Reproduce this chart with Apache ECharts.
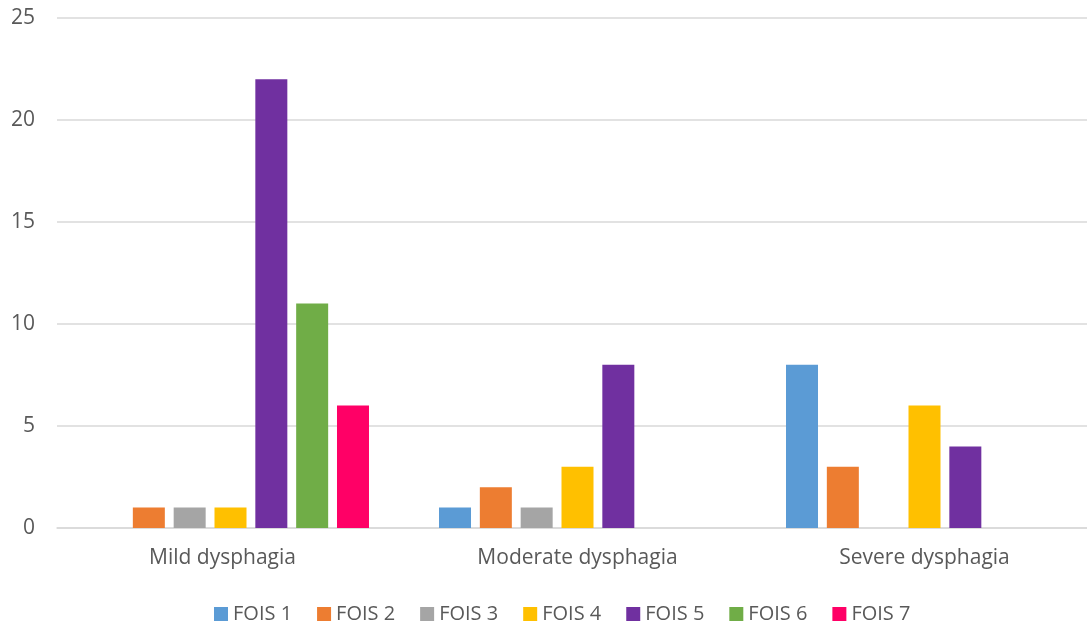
<!DOCTYPE html>
<html>
<head>
<meta charset="utf-8">
<script src="https://cdn.jsdelivr.net/npm/echarts@6/dist/echarts.min.js"></script>
<style>html,body{margin:0;padding:0;background:#fff;}#c{width:1087px;height:625px;}</style>
</head>
<body>
<div id="c"></div>
<script>
const categories = ['Mild dysphagia', 'Moderate dysphagia', 'Severe dysphagia'];
const seriesNames = ['FOIS 1', 'FOIS 2', 'FOIS 3', 'FOIS 4', 'FOIS 5', 'FOIS 6', 'FOIS 7'];
const fois1 = [0, 1, 8];
const fois2 = [1, 2, 3];
const fois3 = [1, 1, 0];
const fois4 = [1, 3, 6];
const fois5 = [22, 8, 4];
const fois6 = [11, 0, 0];
const fois7 = [6, 0, 0];
const yTicks = [0, 5, 10, 15, 20, 25];

const values = [fois1, fois2, fois3, fois4, fois5, fois6, fois7];
const colors = ['#5B9BD5', '#ED7D31', '#A5A5A5', '#FFC000', '#7030A0', '#70AD47', '#FF0066'];
const FONT = 'Open Sans';

const chart = echarts.init(document.getElementById('c'), null, {renderer: 'canvas'});
chart.setOption({
  animation: false,
  backgroundColor: '#ffffff',
  grid: {left: 57, top: 18, height: 510, width: 1041, containLabel: false, outerBoundsMode: 'none'},
  legend: {
    data: seriesNames,
    left: 214,
    top: 604,
    padding: 0,
    icon: 'rect',
    itemWidth: 14,
    itemHeight: 14,
    itemGap: 25,
    textStyle: {fontFamily: FONT, fontSize: 20, color: '#595959'}
  },
  xAxis: {
    type: 'category',
    data: categories,
    axisLine: {show: true, lineStyle: {color: '#D9D9D9', width: 1.5}},
    axisTick: {show: false},
    axisLabel: {
      fontFamily: FONT, fontSize: 21, color: '#595959', margin: 20,
      formatter: (v, i) => i === 0 ? '{m|' + v + '}' : v,
      rich: {m: {fontFamily: FONT, fontSize: 21, color: '#595959', padding: [0, 16, 0, 0]}}
    }
  },
  yAxis: {
    type: 'value',
    min: yTicks[0],
    max: yTicks[yTicks.length - 1],
    interval: 5,
    axisLine: {show: false},
    axisTick: {show: false},
    splitLine: {lineStyle: {color: '#D9D9D9', width: 1.5}},
    axisLabel: {fontFamily: FONT, fontSize: 21, color: '#595959', margin: 22}
  },
  series: seriesNames.map((n, i) => ({
    name: n,
    type: 'bar',
    data: values[i],
    barWidth: 32,
    barGap: '27.6%',
    itemStyle: {color: colors[i]}
  }))
});
</script>
</body>
</html>
